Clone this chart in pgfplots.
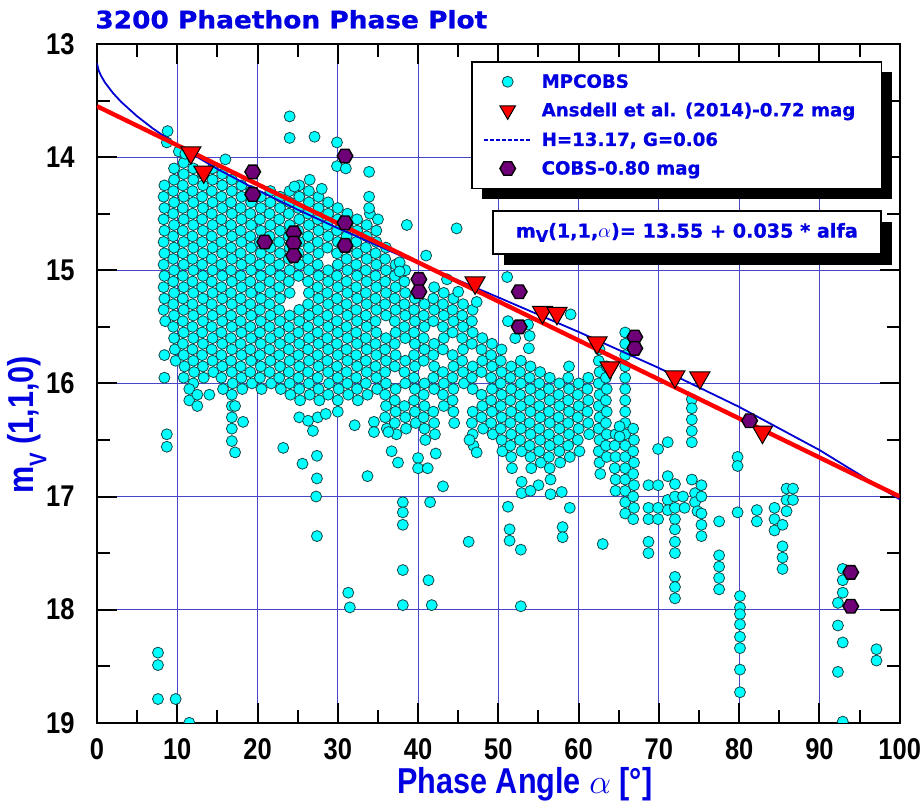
\documentclass[border=0pt]{standalone}
\usepackage{pgfplots}
\pgfplotsset{compat=1.18}
\usepackage{fontspec}
\setmainfont{DejaVu Sans}
\newfontfamily\narrowfont{Liberation Sans}[FakeStretch=0.85]
\newfontfamily\widefont{DejaVu Sans}[FakeStretch=1.1, BoldFeatures={FakeBold=1}]
\newfontfamily\heavyfont{DejaVu Sans}[BoldFeatures={FakeBold=0.8}]
\usetikzlibrary{shadows}
\definecolor{tblue}{RGB}{0,0,225}
\definecolor{gridblue}{RGB}{70,70,200}
\definecolor{cyanfill}{RGB}{0,255,255}
\definecolor{cyanedge}{RGB}{20,70,70}
\definecolor{hexpurple}{RGB}{110,0,120}
\definecolor{curveblue}{RGB}{0,0,210}
\pgfdeclareplotmark{hexa}{%
  \pgfpathmoveto{\pgfpointpolar{0}{\pgfplotmarksize}}%
  \pgfpathlineto{\pgfpointpolar{60}{\pgfplotmarksize}}%
  \pgfpathlineto{\pgfpointpolar{120}{\pgfplotmarksize}}%
  \pgfpathlineto{\pgfpointpolar{180}{\pgfplotmarksize}}%
  \pgfpathlineto{\pgfpointpolar{240}{\pgfplotmarksize}}%
  \pgfpathlineto{\pgfpointpolar{300}{\pgfplotmarksize}}%
  \pgfpathclose
  \pgfusepathqfillstroke}
\pgfplotsset{
  marklegend/.style={legend image code/.code={\draw[mark repeat=2,mark phase=2,##1] plot coordinates {(0pt,0pt)(12pt,0pt)(24pt,0pt)};}},
  trilegend/.style={legend image code/.code={\draw[mark repeat=2,mark phase=2,##1,mark size=4.5pt] plot coordinates {(0pt,0pt)(12pt,0pt)(24pt,0pt)};}},
  dummylegend/.style={legend image code/.code={\pgfpathrectangle{\pgfqpoint{0pt}{-1pt}}{\pgfqpoint{24pt}{2pt}}\pgfusepath{}}},
}
\newcommand{\lt}[1]{\heavyfont\bfseries\fontsize{9.1}{10}\selectfont #1}
\newcommand{\dashimg}{\llap{\textcolor{curveblue}{\makebox[24pt][l]{\xleaders\hbox to 3pt{\rule[2.6pt]{2pt}{0.9pt}\hfill}\hskip 24pt}}\hspace{5pt}}}
\begin{document}
\begin{tikzpicture}
\begin{axis}[
  scale only axis, width=401.5pt, height=339.5pt,
  xmin=0, xmax=100, ymin=13, ymax=19, y dir=reverse,
  xtick={0,10,...,100}, ytick={13,14,...,19},
  minor x tick num=1, minor y tick num=1,
  tick align=inside, xtick pos=both, ytick pos=both,
  xticklabel pos=lower, yticklabel pos=left,
  major tick length=10pt, minor tick length=6.5pt,
  tick style={black, line width=1pt},
  axis line style={black, line width=1pt},
  grid=major, major grid style={gridblue, line width=0.5pt},
  tick label style={font=\narrowfont\bfseries\fontsize{15}{15}\selectfont, black, inner sep=0pt},
  /pgf/number format/assume math mode=true,
  xticklabel style={anchor=north, yshift=-7.5pt},
  yticklabel style={anchor=east, xshift=-11pt},
  clip mode=individual, clip marker paths=true,
  legend cell align=left,
  legend style={at={(axis description cs:0.4658,0.975)}, anchor=north west,
    draw=black, line width=0.8pt, fill=white,
    drop shadow={shadow xshift=5pt, shadow yshift=-5pt, fill=black, opacity=1},
    font=\bfseries\fontsize{9.1}{10}\selectfont, text=tblue,
    inner xsep=6pt, inner ysep=6pt, row sep=6.3pt, column sep=5pt,
    nodes={inner sep=0pt, text height=7pt, text depth=1pt}},
]
% MPCOBS
\addplot[only marks, mark=*, mark size=2.75pt,
  mark options={fill=cyanfill, draw=cyanedge, line width=0.4pt}, marklegend]
coordinates {
(8.4,14.25)(8.3,14.35)(8.4,14.45)(8.3,14.55)(8.4,14.65)(8.3,14.75)(8.4,14.85)(8.3,14.95)(8.4,15.05)(8.3,15.15)(8.4,15.25)(8.3,15.35)(8.5,15.45)
(9.6,14.10)(9.6,14.20)(9.5,14.30)(9.6,14.40)(9.5,14.50)(9.6,14.60)(9.5,14.70)(9.6,14.80)(9.5,14.90)(9.6,15.00)(9.5,15.10)(9.6,15.20)(9.5,15.30)(9.6,15.40)(9.5,15.50)(9.6,15.60)(9.7,15.70)(9.8,15.80)
(10.8,14.05)(10.8,14.15)(10.7,14.25)(10.8,14.35)(10.7,14.45)(10.8,14.55)(10.7,14.65)(10.8,14.75)(10.7,14.85)(10.8,14.95)(10.7,15.05)(10.8,15.15)(10.7,15.25)(10.8,15.35)(10.7,15.45)(10.8,15.55)(10.7,15.65)(10.8,15.75)(10.9,15.85)(10.8,15.95)
(12.0,14.10)(12.0,14.20)(11.9,14.30)(12.0,14.40)(11.9,14.50)(12.0,14.60)(11.9,14.70)(12.0,14.80)(11.9,14.90)(12.0,15.00)(11.9,15.10)(12.0,15.20)(11.9,15.30)(12.0,15.40)(11.9,15.50)(12.0,15.60)(11.9,15.70)(12.0,15.80)(12.1,15.90)(12.0,16.00)
(13.2,14.15)(13.2,14.25)(13.1,14.35)(13.2,14.45)(13.1,14.55)(13.2,14.65)(13.1,14.75)(13.2,14.85)(13.1,14.95)(13.2,15.05)(13.1,15.15)(13.2,15.25)(13.1,15.35)(13.2,15.45)(13.1,15.55)(13.2,15.65)(13.1,15.75)(13.2,15.85)(13.3,15.95)
(14.4,14.10)(14.4,14.20)(14.3,14.30)(14.4,14.40)(14.3,14.50)(14.4,14.60)(14.3,14.70)(14.4,14.80)(14.3,14.90)(14.4,15.00)(14.3,15.10)(14.4,15.20)(14.3,15.30)(14.4,15.40)(14.3,15.50)(14.4,15.60)(14.3,15.70)(14.4,15.80)(14.5,15.90)
(15.6,14.15)(15.6,14.25)(15.5,14.35)(15.6,14.45)(15.5,14.55)(15.6,14.65)(15.5,14.75)(15.6,14.85)(15.5,14.95)(15.6,15.05)(15.5,15.15)(15.6,15.25)(15.5,15.35)(15.6,15.45)(15.5,15.55)(15.6,15.65)(15.5,15.75)(15.6,15.85)(15.5,15.95)(15.7,16.05)
(16.8,14.20)(16.8,14.30)(16.7,14.40)(16.8,14.50)(16.7,14.60)(16.8,14.70)(16.7,14.80)(16.8,14.90)(16.7,15.00)(16.8,15.10)(16.7,15.20)(16.8,15.30)(16.7,15.40)(16.8,15.50)(16.7,15.60)(16.8,15.70)(16.7,15.80)(16.8,15.90)(16.9,16.00)(16.8,16.10)
(18.0,14.25)(18.0,14.35)(17.9,14.45)(18.0,14.55)(17.9,14.65)(18.0,14.75)(17.9,14.85)(18.0,14.95)(17.9,15.05)(18.0,15.15)(17.9,15.25)(18.0,15.35)(17.9,15.45)(18.0,15.55)(17.9,15.65)(18.0,15.75)(17.9,15.85)(18.0,15.95)(18.1,16.05)
(19.2,14.30)(19.2,14.40)(19.1,14.50)(19.2,14.60)(19.1,14.70)(19.2,14.80)(19.1,14.90)(19.2,15.00)(19.1,15.10)(19.2,15.20)(19.1,15.30)(19.2,15.40)(19.1,15.50)(19.2,15.60)(19.1,15.70)(19.2,15.80)(19.1,15.90)(19.3,16.00)
(20.4,14.35)(20.4,14.45)(20.3,14.55)(20.4,14.65)(20.3,14.75)(20.4,14.85)(20.3,14.95)(20.4,15.05)(20.3,15.15)(20.4,15.25)(20.3,15.35)(20.4,15.45)(20.3,15.55)(20.4,15.65)(20.3,15.75)(20.4,15.85)(20.3,15.95)(20.5,16.05)
(21.6,14.30)(21.6,14.40)(21.5,14.50)(21.6,14.60)(21.5,14.70)(21.6,14.80)(21.5,14.90)(21.6,15.00)(21.5,15.10)(21.6,15.20)(21.5,15.30)(21.6,15.40)(21.5,15.50)(21.6,15.60)(21.5,15.70)(21.6,15.80)(21.5,15.90)(21.7,16.00)
(22.8,14.35)(22.8,14.45)(22.7,14.55)(22.8,14.65)(22.7,14.75)(22.8,14.85)(22.7,14.95)(22.8,15.05)(22.7,15.15)(22.8,15.25)(22.7,15.35)(22.8,15.45)(22.7,15.55)(22.8,15.65)(22.7,15.75)(22.8,15.85)(22.7,15.95)(22.9,16.05)
(24.0,14.30)(24.0,14.40)(23.9,14.50)(24.0,14.60)(23.9,14.70)(24.0,14.80)(23.9,14.90)(24.0,15.00)(23.9,15.10)(24.0,15.20)(24.0,15.40)(23.9,15.50)(24.0,15.60)(23.9,15.70)(24.0,15.80)(23.9,15.90)(24.0,16.00)(24.1,16.10)
(25.2,14.25)(25.2,14.35)(25.1,14.45)(25.2,14.55)(25.1,14.65)(25.2,14.75)(25.1,14.85)(25.2,14.95)(25.1,15.05)(25.2,15.35)(25.2,15.45)(25.1,15.55)(25.2,15.65)(25.1,15.75)(25.2,15.85)(25.1,15.95)(25.2,16.05)(25.3,16.15)
(26.4,14.30)(26.4,14.40)(26.3,14.50)(26.4,14.60)(26.3,14.70)(26.4,14.80)(26.3,14.90)(26.4,15.00)(26.3,15.10)(26.4,15.20)(26.3,15.30)(26.4,15.40)(26.3,15.50)(26.4,15.60)(26.3,15.70)(26.4,15.80)(26.3,15.90)(26.4,16.00)(26.5,16.10)
(27.6,14.35)(27.6,14.45)(27.5,14.55)(27.6,14.65)(27.5,14.75)(27.6,14.85)(27.5,14.95)(27.6,15.05)(27.5,15.15)(27.6,15.25)(27.5,15.35)(27.6,15.45)(27.5,15.55)(27.6,15.65)(27.5,15.75)(27.6,15.85)(27.5,15.95)(27.6,16.05)(27.7,16.15)
(28.8,14.40)(28.8,14.50)(28.7,14.60)(28.8,14.70)(28.7,14.80)(28.8,15.00)(28.8,15.10)(28.7,15.20)(28.8,15.30)(28.7,15.40)(28.8,15.50)(28.7,15.60)(28.8,15.70)(28.7,15.80)(28.8,15.90)(28.9,16.00)(28.8,16.10)
(30.0,14.45)(30.0,14.55)(29.9,14.65)(30.0,14.75)(29.9,14.85)(30.0,14.95)(29.9,15.05)(30.0,15.15)(29.9,15.25)(30.0,15.35)(29.9,15.45)(30.0,15.55)(29.9,15.65)(30.0,15.75)(29.9,15.85)(30.0,15.95)(30.1,16.05)(30.0,16.15)
(31.2,14.50)(31.2,14.60)(31.1,14.70)(31.2,14.80)(31.1,14.90)(31.2,15.00)(31.1,15.10)(31.2,15.20)(31.1,15.30)(31.2,15.40)(31.1,15.50)(31.2,15.60)(31.1,15.70)(31.2,15.80)(31.1,15.90)(31.2,16.00)(31.3,16.10)
(32.4,14.55)(32.4,14.65)(32.3,14.75)(32.4,14.85)(32.3,14.95)(32.4,15.05)(32.3,15.15)(32.4,15.25)(32.3,15.35)(32.4,15.45)(32.3,15.55)(32.4,15.65)(32.3,15.75)(32.4,15.85)(32.3,15.95)(32.4,16.05)(32.5,16.15)
(33.6,14.60)(33.6,14.70)(33.5,14.80)(33.6,14.90)(33.5,15.00)(33.6,15.10)(33.5,15.20)(33.6,15.30)(33.5,15.40)(33.6,15.50)(33.5,15.60)(33.6,15.70)(33.5,15.80)(33.6,15.90)(33.5,16.00)(33.7,16.10)
(34.8,14.65)(34.8,14.75)(34.7,14.85)(34.8,14.95)(34.7,15.05)(34.8,15.15)(34.7,15.25)(34.8,15.35)(34.7,15.45)(34.8,15.55)(34.7,15.65)(34.8,15.75)(34.7,15.85)(34.8,15.95)(34.9,16.05)
(36.0,14.80)(35.9,14.90)(36.0,15.00)(35.9,15.10)(36.0,15.20)(35.9,15.30)(36.0,15.40)(36.0,15.60)(35.9,15.70)(36.0,15.80)(35.9,15.90)(36.0,16.00)(35.9,16.10)(36.0,16.20)(35.9,16.30)(36.1,16.40)
(37.2,14.95)(37.1,15.05)(37.2,15.15)(37.1,15.25)(37.2,15.35)(37.1,15.45)(37.2,15.55)(37.1,15.65)(37.2,15.75)(37.1,15.85)(37.2,16.05)(37.1,16.15)(37.2,16.25)(37.1,16.35)(37.3,16.45)
(38.4,15.00)(38.3,15.10)(38.4,15.20)(38.3,15.30)(38.4,15.40)(38.3,15.50)(38.4,15.60)(38.4,15.80)(38.3,15.90)(38.4,16.00)(38.3,16.20)(38.4,16.30)(38.5,16.40)
(39.6,15.25)(39.5,15.35)(39.6,15.45)(39.5,15.55)(39.6,15.65)(39.5,15.75)(39.6,15.85)(39.5,15.95)(39.6,16.05)(39.5,16.15)(39.6,16.25)(39.7,16.35)
(40.8,15.30)(40.7,15.40)(40.8,15.50)(40.7,15.60)(40.8,15.70)(40.7,15.80)(40.8,16.00)(40.7,16.10)(40.8,16.20)(40.7,16.30)(40.8,16.40)(40.9,16.50)
(42.0,15.15)(41.9,15.25)(42.0,15.35)(41.9,15.45)(42.0,15.65)(41.9,15.75)(42.0,15.85)(41.9,15.95)(42.0,16.05)(41.9,16.25)(42.0,16.35)(42.1,16.45)
(43.2,15.20)(43.1,15.30)(43.2,15.40)(43.1,15.50)(43.2,15.60)(43.1,15.70)(43.1,15.90)(43.2,16.00)(43.1,16.10)(43.2,16.20)
(44.4,15.25)(44.3,15.35)(44.4,15.45)(44.3,15.55)(44.3,15.75)(44.4,15.85)(44.3,15.95)(44.4,16.05)(44.3,16.15)(44.4,16.25)(44.5,16.35)
(45.6,15.30)(45.5,15.40)(45.6,15.50)(45.5,15.60)(45.6,15.70)(45.5,15.80)(45.6,15.90)(45.7,16.00)
(46.8,15.35)(46.7,15.45)(46.8,15.55)(46.7,15.65)(46.8,15.85)(46.7,15.95)(46.8,16.05)(46.8,16.25)(46.7,16.35)(46.8,16.45)(46.9,16.55)
(48.0,15.60)(47.9,15.70)(48.0,15.80)(47.9,15.90)(47.9,16.10)(48.0,16.20)(47.9,16.30)(48.1,16.40)
(49.2,15.65)(49.1,15.75)(49.2,15.85)(49.1,15.95)(49.2,16.05)(49.1,16.15)(49.2,16.25)(49.1,16.35)(49.3,16.45)
(50.4,15.70)(50.3,15.80)(50.4,15.90)(50.3,16.00)(50.4,16.10)(50.3,16.20)(50.4,16.30)(50.3,16.40)(50.4,16.50)(50.5,16.60)
(51.6,15.85)(51.5,15.95)(51.6,16.05)(51.5,16.15)(51.6,16.25)(51.5,16.35)(51.6,16.45)(51.5,16.55)(51.6,16.65)(51.7,16.75)
(52.8,15.80)(52.7,15.90)(52.8,16.00)(52.7,16.10)(52.8,16.20)(52.7,16.30)(52.8,16.40)(52.7,16.50)(52.9,16.60)
(54.0,15.85)(53.9,15.95)(54.0,16.05)(53.9,16.15)(54.0,16.25)(53.9,16.35)(54.0,16.45)(53.9,16.55)(54.0,16.65)(54.1,16.75)
(55.2,15.90)(55.1,16.00)(55.2,16.10)(55.1,16.20)(55.2,16.30)(55.1,16.40)(55.2,16.50)(55.1,16.60)(55.3,16.70)
(56.4,15.95)(56.3,16.05)(56.4,16.15)(56.3,16.25)(56.4,16.35)(56.3,16.45)(56.4,16.55)(56.3,16.65)(56.4,16.75)(56.5,16.85)
(57.6,16.00)(57.5,16.10)(57.6,16.20)(57.5,16.30)(57.6,16.40)(57.5,16.50)(57.6,16.60)(57.7,16.70)
(58.8,15.85)(58.7,15.95)(58.8,16.05)(58.7,16.15)(58.8,16.25)(58.7,16.35)(58.8,16.45)(58.7,16.55)(58.9,16.65)
(60.0,16.00)(59.9,16.10)(60.0,16.20)(59.9,16.30)(60.0,16.40)(59.9,16.50)(60.1,16.60)
(61.2,15.95)(61.1,16.05)(61.2,16.15)(61.1,16.25)(61.2,16.35)(61.3,16.45)
(62.6,15.70)(62.5,15.80)(62.6,15.90)(62.5,16.00)(62.6,16.10)(62.5,16.20)(62.6,16.30)(62.5,16.40)(62.6,16.50)(62.5,16.60)(62.6,16.70)(62.7,16.80)
(63.5,15.85)(63.4,15.95)(63.5,16.05)(63.4,16.15)(63.5,16.25)(63.4,16.35)(63.5,16.45)(63.4,16.55)(63.5,16.65)
(64.6,16.45)(64.5,16.55)(64.6,16.65)(64.5,16.75)(64.6,16.85)(64.6,16.95)
(65.8,15.55)(65.8,15.65)(65.8,15.75)(65.8,15.85)(65.8,15.95)(65.8,16.05)(65.8,16.15)(65.8,16.25)(65.8,16.35)(65.8,16.45)(65.8,16.55)(65.8,16.65)(65.8,16.75)(65.8,16.85)(65.8,16.95)(65.8,17.05)(65.8,17.15)
(66.8,16.40)(66.9,16.50)(66.8,16.60)(66.9,16.70)(66.8,16.80)(66.9,16.90)(66.8,17.00)(66.9,17.10)(66.8,17.20)
(8.7,13.87)(8.8,13.77)(10.2,13.95)(11.0,13.97)(16.0,14.02)
(8.4,15.75)(8.4,15.95)(8.7,16.45)(8.7,16.56)
(7.6,18.38)(7.6,18.49)(7.6,18.79)(9.8,18.79)(11.5,19.0)
(11.5,16.05)(11.5,16.15)(12.5,16.10)(12.5,16.20)(14.0,16.10)
(16.8,16.20)(17.2,16.20)(16.8,16.30)(18.2,16.34)(16.8,16.40)(16.8,16.51)(17.2,16.61)
(23.2,16.57)(25.6,16.71)(27.4,16.64)(27.4,16.84)(27.3,17.00)(27.4,17.35)(33.7,16.82)(31.3,17.85)(31.5,17.98)
(25.2,16.30)(26.3,16.33)(27.5,16.30)(26.9,16.42)(28.5,16.27)(30.0,16.25)(32.1,16.37)(34.5,16.34)(34.5,16.43)(36.3,16.43)
(24.0,13.64)(24.0,13.83)(27.1,13.82)(29.9,13.87)(29.9,14.08)(31.0,14.10)(33.9,14.13)(33.9,14.35)(38.6,14.60)(44.8,14.63)(41.0,14.87)(37.7,14.93)(37.7,15.01)
(24.6,14.26)(26.5,14.20)(28.0,14.28)(34.0,14.50)(35.0,14.55)(33.9,14.45)
(51.1,15.06)(47.3,15.28)(45.0,15.19)(43.6,15.08)(59.0,15.39)(53.9,15.58)(53.7,15.48)(52.1,15.60)(53.8,15.69)(51.2,15.45)
(38.1,17.05)(38.1,17.14)(38.1,17.25)(41.5,17.05)(40.0,16.66)(40.0,16.75)(41.2,16.75)(42.2,16.62)(43.1,16.91)(46.4,16.50)(47.3,16.61)(46.3,17.40)
(38.1,17.65)(38.1,17.96)(41.3,17.74)(41.7,17.96)(36.7,16.60)(37.5,16.70)
(51.4,17.29)(51.4,17.39)(52.8,17.47)(52.8,17.97)(58.0,17.27)(58.0,17.36)(63.0,17.42)(51.2,17.09)(52.9,16.87)(52.9,16.97)(57.9,16.96)(58.9,17.10)(55.0,16.90)(54.0,16.95)(56.5,16.98)
(65.1,16.38)(65.1,16.47)
(68.7,16.90)(68.7,17.10)(68.7,17.20)(68.7,17.40)(68.7,17.50)(69.9,16.58)(69.9,16.90)(69.9,17.10)(69.9,17.20)(71.1,16.52)(71.1,16.82)(71.1,17.03)(71.1,17.12)
(72.0,16.89)(72.0,17.00)(72.0,17.10)(72.0,17.20)(72.0,17.29)(72.0,17.40)(72.0,17.50)(72.0,17.71)(72.0,17.80)(72.0,17.90)
(73.0,17.00)(73.2,17.10)
(74.1,16.14)(74.1,16.22)(74.1,16.32)(74.1,16.42)(74.1,16.52)(74.1,16.85)(74.5,16.97)(74.5,17.05)(74.8,17.13)
(75.3,16.90)(75.3,17.00)(75.3,17.15)(75.3,17.25)(75.3,17.35)
(77.5,17.22)(77.5,17.52)(77.5,17.62)(77.5,17.72)(77.5,17.82)
(79.8,16.65)(79.8,16.73)(79.8,17.14)
(80.1,17.88)(80.1,17.98)(80.1,18.04)(80.1,18.13)(80.1,18.24)(80.1,18.34)(80.1,18.53)(80.1,18.73)
(82.2,17.12)(82.2,17.22)(84.4,17.10)(84.4,17.20)(84.4,17.30)(85.4,17.25)(85.4,17.44)(85.4,17.54)(85.4,17.64)
(85.9,16.93)(86.7,16.93)(85.9,17.03)(86.7,17.03)(85.9,17.13)
(92.9,17.64)(92.9,17.74)(92.9,17.85)(92.3,17.94)(92.3,18.14)(92.9,18.29)(92.3,18.55)(92.9,18.99)(97.1,18.35)(97.1,18.45)
};
\addlegendentry{\makebox[164pt][l]{\lt{MPCOBS}}}
% H-G curve
\addplot[curveblue, line width=0.9pt, forget plot] coordinates {
(0,13.17)(0.2,13.232)(0.5,13.280)(1,13.341)(2,13.434)(3,13.511)(5,13.639)(7,13.749)(10,13.894)(15,14.105)(20,14.292)(25,14.464)(30,14.628)(40,14.938)(50,15.240)(60,15.545)(70,15.864)(80,16.208)(90,16.589)(100,17.025)
};
% linear fit
\addplot[red, line width=2.2pt, forget plot] coordinates {(0,13.55)(100,17.0)};
% Ansdell
\addplot[only marks, mark=triangle*, mark size=5.8pt,
  mark options={rotate=180, fill=red, draw=black, line width=0.5pt}, trilegend]
coordinates {
(11.7,13.96)(13.3,14.13)(47.1,15.11)(55.5,15.37)(57.3,15.38)(62.3,15.64)(63.9,15.86)(72.0,15.94)(75.1,15.95)(82.9,16.43)
};
\addlegendentry{\lt{Ansdell et al. (2014)-0.72 mag}}
\addlegendimage{dummylegend}
\addlegendentry{\dashimg\lt{H=13.17, G=0.06}}
% COBS
\addplot[only marks, mark=hexa, mark size=3.9pt,
  mark options={fill=hexpurple, draw=black, line width=0.7pt}, marklegend]
coordinates {
(19.4,14.13)(19.4,14.33)(20.9,14.75)(24.5,14.67)(24.5,14.76)(24.5,14.87)(30.9,13.99)(30.9,14.58)(30.9,14.78)(40.1,15.08)(40.1,15.19)(52.6,15.19)(52.6,15.50)(67.0,15.59)(67.0,15.69)(81.3,16.33)(93.9,17.67)(93.9,17.97)
};
\addlegendentry{\lt{COBS-0.80 mag}}
% texts
\node[anchor=base west, inner sep=0pt, text=tblue, font=\widefont\bfseries\fontsize{12}{14}\selectfont, xshift=-1pt, yshift=7.85pt] at (axis description cs:0,1) {3200 Phaethon Phase Plot};
\node[anchor=base, inner sep=0pt, text=tblue, font=\narrowfont\bfseries\fontsize{18}{20}\selectfont, yshift=-35.5pt] at (axis description cs:0.533,0) {Phase Angle $\alpha$ [°]};
\node[rotate=90, inner sep=0pt, text=tblue, font=\narrowfont\bfseries\fontsize{18}{20}\selectfont] at (axis description cs:-0.0872,0.439) {m\raisebox{-0.35em}{\fontsize{12}{12}\selectfont V} (1,1,0)};
\node[draw=black, line width=0.8pt, fill=white,
  drop shadow={shadow xshift=5.5pt, shadow yshift=-5.5pt, fill=black, opacity=1},
  minimum width=194pt, minimum height=21.5pt, inner sep=0pt, text=tblue,
  font=\heavyfont\bfseries\fontsize{9.6}{11}\selectfont] at (axis description cs:0.7347,0.7224)
  {m\raisebox{-0.4ex}{\fontsize{8}{8}\selectfont V}(1,1,$\alpha$)= 13.55 + 0.035 * alfa};
\path (axis description cs:-0.1208,-0.1178) rectangle (axis description cs:1.0262,1.0648);
\end{axis}
\end{tikzpicture}
\end{document}
